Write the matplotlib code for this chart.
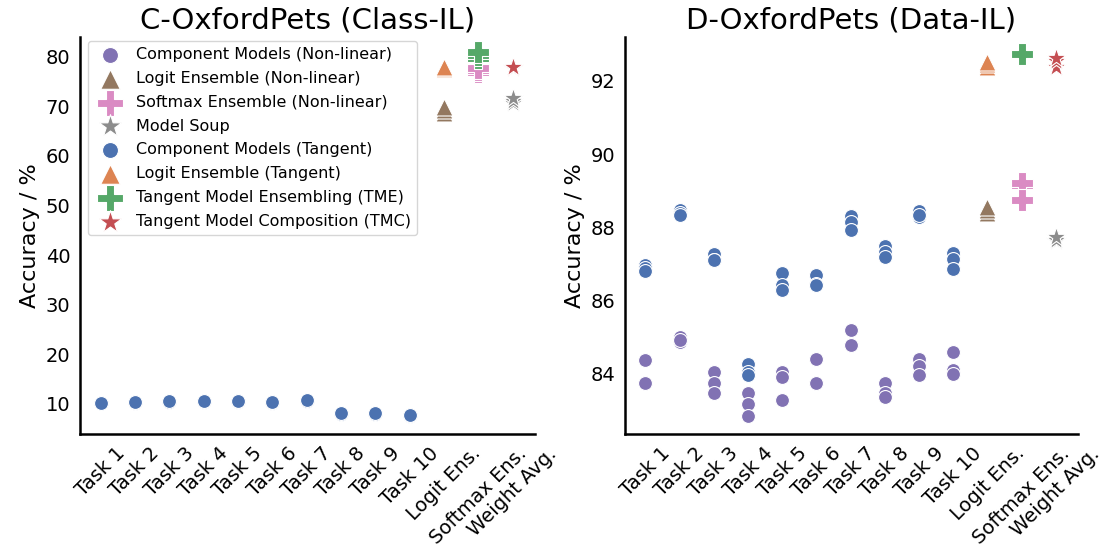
import matplotlib
matplotlib.use("Agg")
import matplotlib.pyplot as plt
import numpy as np

# ---------------- data ----------------
tasks = ["Task 1", "Task 2", "Task 3", "Task 4", "Task 5",
         "Task 6", "Task 7", "Task 8", "Task 9", "Task 10"]
cat_logit = "Logit Ens."
cat_soft = "Softmax Ens."
cat_avg = "Weight Avg."
categories = tasks + [cat_logit, cat_soft, cat_avg]

# C-OxfordPets (Class-IL): 3 runs per task
c_comp_nonlin = [[10.1, 10.2, 10.2], [10.3, 10.4, 10.4], [10.4, 10.5, 10.5],
                 [10.5, 10.6, 10.6], [10.5, 10.6, 10.6], [10.3, 10.4, 10.5],
                 [10.6, 10.7, 10.7], [7.9, 8.0, 8.0], [7.9, 8.0, 8.0], [7.6, 7.7, 7.8]]
c_comp_tan = [[10.2, 10.2, 10.3], [10.4, 10.4, 10.5], [10.5, 10.5, 10.6],
              [10.6, 10.6, 10.7], [10.6, 10.6, 10.7], [10.4, 10.5, 10.5],
              [10.7, 10.7, 10.8], [8.0, 8.0, 8.1], [8.0, 8.0, 8.1], [7.7, 7.8, 7.8]]
c_logit_nonlin = [68.6, 69.2, 69.8]
c_logit_tan = [77.6, 77.8, 77.9]
c_soft_nonlin = [77.0, 77.4, 77.8]
c_soft_tan = [79.8, 80.4, 81.0]
c_soup = [70.6, 71.1, 71.6]
c_tmc = [77.8, 77.9, 78.0]

# D-OxfordPets (Data-IL): 3 runs per task
d_comp_nonlin = [[84.38, 83.75, 83.75], [85.02, 84.88, 84.92], [84.06, 83.75, 83.47],
                 [83.47, 83.18, 82.86], [84.06, 83.91, 83.29], [84.41, 83.75, 83.75],
                 [85.20, 84.78, 84.80], [83.75, 83.47, 83.38], [84.41, 84.22, 83.97],
                 [84.59, 84.11, 84.00]]
d_comp_tan = [[86.98, 86.90, 86.80], [88.48, 88.40, 88.34], [87.28, 87.10, 87.12],
              [84.27, 84.04, 83.97], [86.75, 86.43, 86.30], [86.70, 86.45, 86.43],
              [88.30, 88.16, 87.93], [87.48, 87.34, 87.19], [88.45, 88.28, 88.35],
              [87.30, 87.14, 86.87]]
d_logit_nonlin = [88.39, 88.48, 88.57]
d_logit_tan = [92.39, 92.45, 92.52]
d_soft_nonlin = [89.16, 89.20, 88.75]
d_soft_tan = [92.70, 92.72, 92.74]
d_soup = [87.62, 87.66, 87.75]
d_tmc = [92.39, 92.53, 92.62]

# ---------------- style ----------------
c_blue, c_orange, c_green, c_red = "#4C72B0", "#DD8452", "#55A868", "#C44E52"
c_purple, c_brown, c_pink, c_gray = "#8172B3", "#937860", "#DA8BC3", "#8C8C8C"

plt.rcParams["font.family"] = ["DejaVu Sans"]

fig = plt.figure(figsize=(11.04, 5.54), dpi=100)
ax1 = fig.add_axes([0.0725, 0.2166, 0.4121, 0.7168])
ax2 = fig.add_axes([0.5661, 0.2166, 0.4104, 0.7168])

S_CIRC, S_TRI, S_PLUS, S_STAR = 100, 150, 260, 220
EW = 0.8
pos = {c: i for i, c in enumerate(categories)}


def draw(ax, comp_nl, logit_nl, soft_nl, soup, comp_t, logit_t, soft_t, tmc):
    # non-linear
    for t, vals in zip(tasks, comp_nl):
        ax.scatter([pos[t]] * len(vals), vals, s=S_CIRC, marker="o", color=c_purple,
                   edgecolor="white", linewidth=EW, zorder=3,
                   label="Component Models (Non-linear)" if t == tasks[0] else None)
    ax.scatter([pos[cat_logit]] * len(logit_nl), logit_nl, s=S_TRI, marker="^", color=c_brown,
               edgecolor="white", linewidth=EW, zorder=3, label="Logit Ensemble (Non-linear)")
    ax.scatter([pos[cat_soft]] * len(soft_nl), soft_nl, s=S_PLUS, marker="P", color=c_pink,
               edgecolor="white", linewidth=EW, zorder=3, label="Softmax Ensemble (Non-linear)")
    ax.scatter([pos[cat_avg]] * len(soup), soup, s=S_STAR, marker="*", color=c_gray,
               edgecolor="white", linewidth=EW, zorder=3, label="Model Soup")
    # tangent
    for t, vals in zip(tasks, comp_t):
        ax.scatter([pos[t]] * len(vals), vals, s=S_CIRC, marker="o", color=c_blue,
                   edgecolor="white", linewidth=EW, zorder=4,
                   label="Component Models (Tangent)" if t == tasks[0] else None)
    ax.scatter([pos[cat_logit]] * len(logit_t), logit_t, s=S_TRI, marker="^", color=c_orange,
               edgecolor="white", linewidth=EW, zorder=4, label="Logit Ensemble (Tangent)")
    ax.scatter([pos[cat_soft]] * len(soft_t), soft_t, s=S_PLUS, marker="P", color=c_green,
               edgecolor="white", linewidth=EW, zorder=4, label="Tangent Model Ensembling (TME)")
    ax.scatter([pos[cat_avg]] * len(tmc), tmc, s=S_STAR, marker="*", color=c_red,
               edgecolor="white", linewidth=EW, zorder=4, label="Tangent Model Composition (TMC)")

    ax.set_xticks(range(len(categories)))
    ax.set_xticklabels(categories, rotation=45, ha="center")
    for sp in ["top", "right"]:
        ax.spines[sp].set_visible(False)
    for sp in ["left", "bottom"]:
        ax.spines[sp].set_linewidth(1.8)
    ax.tick_params(axis="both", length=0, labelsize=14, pad=7)
    ax.set_ylabel("Accuracy / %", fontsize=16)
    ax.set_xlim(-0.6, len(categories) - 1 + 0.65)


draw(ax1, c_comp_nonlin, c_logit_nonlin, c_soft_nonlin, c_soup,
     c_comp_tan, c_logit_tan, c_soft_tan, c_tmc)
draw(ax2, d_comp_nonlin, d_logit_nonlin, d_soft_nonlin, d_soup,
     d_comp_tan, d_logit_tan, d_soft_tan, d_tmc)

ax1.set_title("C-OxfordPets (Class-IL)", fontsize=21)
ax2.set_title("D-OxfordPets (Data-IL)", fontsize=21)
ax1.set_ylim(3.95, 84.0)
ax1.set_yticks([10, 20, 30, 40, 50, 60, 70, 80])
ax2.set_ylim(82.36, 93.2)
ax2.set_yticks([84, 86, 88, 90, 92])

leg = ax1.legend(loc="upper left", fontsize=11.5, markerscale=1.15, frameon=True,
                 labelspacing=0.55, handletextpad=0.6, borderpad=0.4,
                 bbox_to_anchor=(0.0, 1.01))
leg.get_frame().set_edgecolor("#cccccc")

fig.savefig("out.png", dpi=100)
